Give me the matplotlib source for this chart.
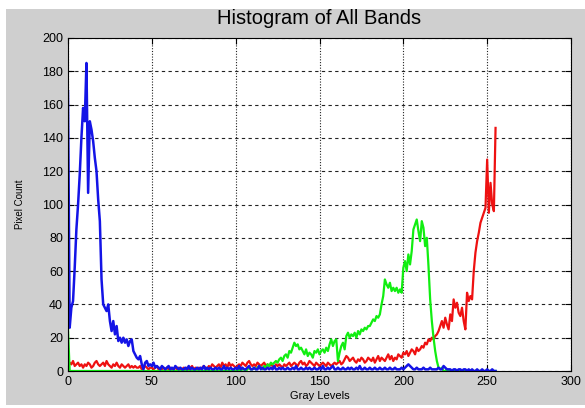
import numpy as np
import matplotlib.pyplot as plt
from matplotlib.patches import Rectangle

# Conteo de pixeles por nivel de gris (0-255) para cada banda
azul = [168, 26, 38, 42, 62, 85, 100, 118, 140, 158,
        150, 185, 107, 150, 145, 138, 128, 120, 103, 90,
        55, 40, 38, 36, 40, 30, 24, 30, 22, 27,
        18, 20, 17, 20, 17, 19, 15, 18, 19, 12,
        10, 8, 7, 9, 4, 1, 5, 6, 3, 4,
        3, 5, 2, 3, 2, 1, 3, 2, 1, 2,
        3, 1, 2, 1, 3, 2, 1, 2, 1, 1,
        2, 1, 3, 1, 2, 1, 1, 2, 1, 2,
        1, 3, 1, 2, 1, 2, 1, 1, 2, 1,
        2, 1, 1, 3, 1, 2, 1, 2, 1, 1,
        2, 1, 3, 1, 2, 1, 1, 2, 3, 1,
        1, 2, 1, 1, 3, 1, 2, 1, 1, 2,
        1, 2, 1, 3, 1, 1, 2, 1, 2, 1,
        1, 2, 1, 1, 2, 1, 3, 1, 1, 2,
        1, 1, 2, 1, 2, 1, 1, 2, 1, 1,
        2, 1, 3, 1, 1, 2, 1, 2, 3, 1,
        1, 2, 1, 1, 2, 1, 1, 2, 1, 2,
        1, 1, 2, 1, 3, 1, 1, 2, 1, 1,
        2, 1, 1, 2, 1, 1, 2, 1, 1, 2,
        1, 1, 2, 1, 1, 2, 1, 1, 1, 2,
        1, 2, 3, 4, 3, 2, 1, 1, 2, 1,
        1, 1, 2, 1, 1, 1, 2, 1, 1, 1,
        1, 2, 1, 1, 3, 2, 1, 1, 1, 0,
        1, 1, 0, 1, 1, 0, 1, 1, 0, 1,
        0, 1, 0, 0, 1, 0, 0, 1, 0, 0,
        1, 0, 0, 1, 0, 0]

verde = [25] + [0] * 99 + [
         0, 0, 1, 0, 1, 1, 0, 1, 2, 1,
         1, 2, 1, 2, 3, 2, 1, 3, 2, 4,
         3, 5, 4, 5, 6, 5, 7, 8, 6, 9,
         10, 8, 12, 11, 14, 17, 15, 16, 13, 14,
         12, 10, 13, 9, 11, 10, 8, 12, 11, 13,
         10, 12, 13, 11, 14, 12, 16, 19, 15, 18,
         19, 6, 11, 15, 17, 13, 21, 23, 20, 22,
         21, 23, 20, 24, 22, 25, 24, 26, 25, 27,
         27, 29, 31, 30, 33, 32, 34, 40, 45, 55,
         52, 50, 53, 48, 50, 48, 50, 47, 49, 47,
         62, 66, 60, 70, 64, 72, 85, 88, 91, 84,
         78, 90, 86, 75, 80, 63, 43, 30, 20, 12,
         6, 2, 1, 2, 0, 0, 1, 0, 0, 0] + [0] * 26

rojo = [3, 5, 4, 6, 3, 4, 5, 3, 4, 2,
        4, 3, 5, 4, 2, 3, 5, 6, 4, 3,
        4, 5, 3, 6, 4, 3, 2, 4, 3, 5,
        3, 2, 4, 3, 2, 3, 4, 2, 3, 2,
        3, 2, 2, 3, 1, 2, 3, 2, 1, 2,
        2, 1, 2, 3, 1, 2, 1, 2, 1, 2,
        1, 2, 1, 1, 2, 1, 2, 1, 1, 2,
        1, 2, 1, 2, 3, 1, 2, 1, 2, 1,
        2, 3, 2, 1, 3, 2, 4, 3, 2, 3,
        4, 2, 5, 3, 4, 2, 5, 3, 4, 3,
        2, 3, 4, 3, 5, 4, 3, 5, 6, 4,
        3, 4, 3, 5, 4, 3, 4, 5, 3, 4,
        3, 4, 3, 2, 4, 3, 4, 3, 2, 4,
        3, 4, 5, 3, 4, 5, 4, 3, 5, 6,
        4, 5, 3, 4, 6, 5, 4, 3, 5, 4,
        3, 4, 5, 4, 3, 5, 4, 3, 4, 5,
        4, 5, 6, 4, 5, 7, 9, 8, 6, 7,
        8, 6, 5, 7, 6, 8, 7, 5, 6, 8,
        7, 6, 8, 5, 7, 9, 6, 8, 7, 6,
        8, 10, 7, 9, 6, 8, 7, 10, 9, 8,
        11, 10, 12, 9, 11, 13, 12, 10, 14, 12,
        13, 15, 14, 17, 16, 19, 18, 20, 19, 21,
        22, 24, 27, 30, 26, 32, 28, 25, 34, 30,
        43, 38, 41, 35, 33, 38, 30, 25, 47, 42,
        45, 43, 60, 71, 78, 83, 89, 92, 95, 98,
        127, 95, 113, 100, 96, 146]

niveles = np.arange(256)

plt.rcParams['font.family'] = ['Liberation Sans', 'DejaVu Sans']

fig = plt.figure(figsize=(5.85, 4.08), dpi=100)
fig.patch.set_facecolor('white')
# panel gris de fondo estilo MATLAB
fondo = Rectangle((6 / 585, 3 / 408), 1 - 6 / 585, 396 / 408,
                  transform=fig.transFigure, facecolor='#cfcfcf',
                  edgecolor='none', zorder=-10)
fig.add_artist(fondo)

ax = fig.add_axes([68 / 585, 37 / 408, 503 / 585, 333 / 408])
ax.set_zorder(5)
ax.set_facecolor('white')

ax.plot(niveles, rojo, color='#ee1111', lw=1.6)
ax.plot(niveles, verde, color='#11ee11', lw=1.6)
ax.plot(niveles, azul, color='#1414e6', lw=1.8)

ax.set_xlim(0, 300)
ax.set_ylim(0, 200)
ax.set_xticks(np.arange(0, 301, 50))
ax.set_yticks(np.arange(0, 201, 20))
ax.grid(axis='y', color='#222222', linestyle=(0, (3, 3)), lw=0.8)
ax.grid(axis='x', color='#222222', linestyle=(0, (1, 1.5)), lw=0.8)
ax.set_axisbelow(True)
ax.tick_params(direction='in', length=4, top=True, right=True, labelsize=9)

for s in ax.spines.values():
    s.set_linewidth(0.8)

ax.set_title('Histogram of All Bands', fontsize=14.5, pad=10)
ax.set_xlabel('Gray Levels', fontsize=8, labelpad=2)
ax.set_ylabel('Pixel Count', fontsize=7, labelpad=12)

fig.savefig('out.png', dpi=100, facecolor=fig.get_facecolor())
